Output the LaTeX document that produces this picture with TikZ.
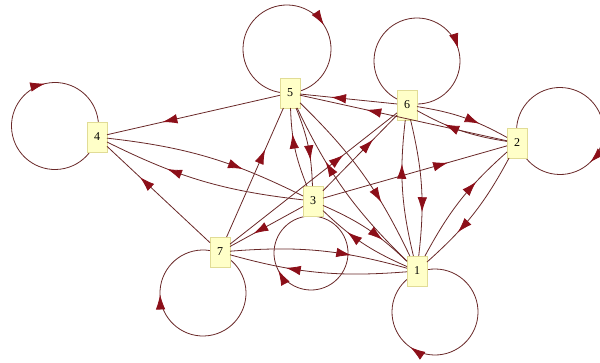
\documentclass[tikz,border=0pt]{standalone}
\usepackage{fontspec}
\setmainfont{Liberation Serif}
\usetikzlibrary{arrows.meta,decorations.markings,backgrounds}
\definecolor{linecol}{RGB}{105,40,40}
\definecolor{arrowcol}{RGB}{140,15,25}
\definecolor{nodefill}{RGB}{255,255,200}
\definecolor{nodedraw}{RGB}{225,220,150}
\begin{document}
\begin{tikzpicture}[x=1pt,y=1pt,
  vert/.style={draw=nodedraw, fill=nodefill, line width=0.8pt, minimum width=20pt,
    minimum height=30pt, inner sep=0pt, outer sep=0pt, font=\fontsize{12}{12}\selectfont},
  lnk/.style={draw=linecol, line width=0.8pt, postaction={decorate},
    decoration={markings, mark=at position #1 with {\arrow{Latex[length=15pt,width=9.5pt,color=arrowcol]}}}},
  lnk/.default=0.68,
  pair/.style={lnk, bend left=10},
  selfloop/.style={lnk=0.5},
]
\useasboundingbox (0,0) rectangle (600,362);

% nodes
\node[vert] (n5) at (290,269) {5};
\node[vert] (n6) at (407,257) {6};
\node[vert] (n4) at (97,225) {4};
\node[vert] (n2) at (517,219) {2};
\node[vert] (n3) at (313,161) {3};
\node[vert] (n7) at (220,110) {7};
\node[vert] (n1) at (417,91) {1};

% loop centres
\path (n5.center) ++(-3,44) coordinate (c5);
\path (n6.center) ++(10,44) coordinate (c6);
\path (n2.center) ++(43,12) coordinate (c2);
\path (n4.center) ++(-42,11) coordinate (c4);
\path (n7.center) ++(-17,-41) coordinate (c7);
\path (n1.center) ++(18,-41) coordinate (c1);
\path (n3.center) ++(-2,-52) coordinate (c3);

\begin{pgfonlayer}{background}
\draw[selfloop] (c5) ++(213:44) arc[start angle=213, delta angle=-360, radius=44];
\draw[selfloop] (c6) ++(197:43) arc[start angle=197, delta angle=-360, radius=43];
\draw[selfloop] (c2) ++(134:43.5) arc[start angle=134, delta angle=-360, radius=43.5];
\draw[selfloop] (c4) ++(283:43.5) arc[start angle=283, delta angle=-360, radius=43.5];
\draw[selfloop] (c7) ++(2:43) arc[start angle=2, delta angle=-360, radius=43];
\draw[selfloop] (c1) ++(55:43) arc[start angle=55, delta angle=-360, radius=43];
\draw[selfloop] (c3) ++(28:37) arc[start angle=28, delta angle=-360, radius=37];
\end{pgfonlayer}

% single edges
\draw[lnk] (n5) -- (n4);
\draw[lnk] (n6) -- (n5);
\draw[lnk] (n2) -- (n5);
\draw[lnk] (n7) -- (n5);
\draw[lnk] (n7) -- (n4);
\draw[lnk] (n3) -- (n2);
\draw[lnk] (n3) -- (n6);
\draw[lnk] (n3) -- (n7);
\draw[lnk] (n7) -- (n6);

% paired edges
\draw[pair] (n4) to (n3);
\draw[pair] (n3) to (n4);
\draw[pair] (n5) to (n3);
\draw[pair] (n3) to (n5);
\draw[pair] (n5) to (n1);
\draw[pair] (n1) to (n5);
\draw[pair] (n6) to (n1);
\draw[pair] (n1) to (n6);
\draw[pair] (n1) to (n2);
\draw[pair] (n2) to (n1);
\draw[pair] (n6) to (n2);
\draw[pair] (n2) to (n6);
\draw[pair] (n7) to (n1);
\draw[pair] (n1) to (n7);
\draw[pair] (n3) to (n1);
\draw[pair] (n1) to (n3);
\end{tikzpicture}
\end{document}
